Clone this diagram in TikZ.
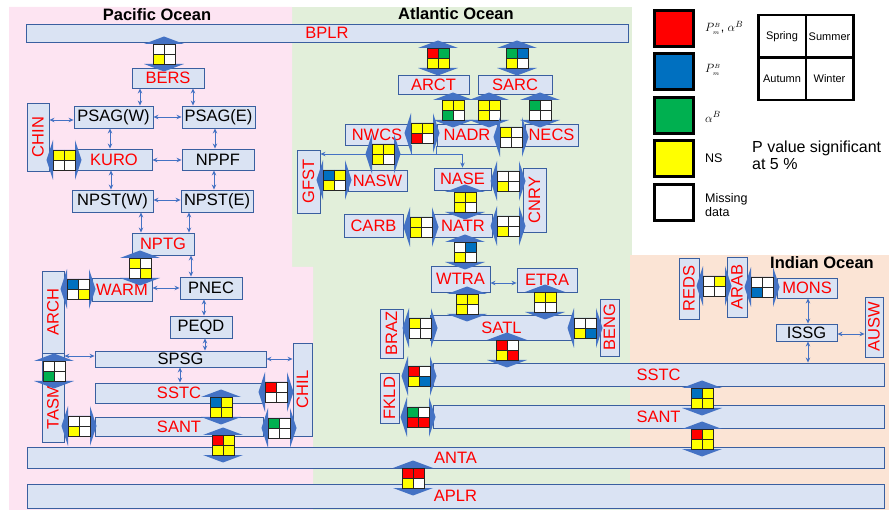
\documentclass[tikz,border=0pt]{standalone}
\usepackage{fontspec}
\usepackage{graphicx}
\setmainfont{Liberation Sans}
\usetikzlibrary{arrows.meta}
\definecolor{pacificbg}{HTML}{FDE4F2}
\definecolor{atlanticbg}{HTML}{E2EFDA}
\definecolor{indianbg}{HTML}{FBE4D5}
\definecolor{boxfill}{HTML}{DAE3F3}
\definecolor{boxedge}{HTML}{3A5FA0}
\definecolor{fluxblue}{HTML}{4472C4}
\definecolor{labelred}{HTML}{FF0000}
\definecolor{sigBoth}{HTML}{FF0000}
\definecolor{sigPm}{HTML}{0070C0}
\definecolor{sigAlpha}{HTML}{00B050}
\definecolor{sigNone}{HTML}{FFFF00}
\definecolor{sigMiss}{HTML}{FFFFFF}
\newcommand{\boxfont}{\fontsize{16.5}{18}\selectfont}
\newcommand{\pmB}{P^{\scriptscriptstyle B}_{\scriptscriptstyle m}}

\begin{document}
\begin{tikzpicture}[
    x=1pt, y=-1pt,
    >={Stealth[length=5pt,width=4.5pt]},
    basin/.style={draw=boxedge, fill=boxfill, line width=0.9pt, inner sep=0pt, font=\boxfont},
    hotbasin/.style={basin, text=labelred},
    link/.style={<->, draw=fluxblue, line width=0.8pt},
    wire/.style={draw=fluxblue, line width=0.8pt},
    swatchline/.style={draw=black!85, line width=0.8pt},
    keybox/.style={draw=black, line width=3pt, minimum width=39, minimum height=36, inner sep=0pt},
    keytext/.style={anchor=west, font=\fontsize{12.5}{14}\selectfont, align=left, inner sep=0pt},
    seasoncell/.style={draw=black, line width=2.5pt, minimum width=47.5, minimum height=42.5, inner sep=0pt, font=\fontsize{11}{13}\selectfont},
    oceantitle/.style={font=\fontsize{16.5}{18}\selectfont\bfseries},
]

\newcommand{\swatch}[4]{%
    \fill[#1] (-11,-10) rectangle (0,0);
    \fill[#2] (0,-10) rectangle (11,0);
    \fill[#3] (-11,0) rectangle (0,10);
    \fill[#4] (0,0) rectangle (11,10);
    \draw[swatchline] (-11,-10) rectangle (11,10) (0,-10) -- (0,10) (-11,0) -- (11,0);
}

\useasboundingbox (0,0) rectangle (889,510);

% ================= OCEAN BACKGROUNDS =================
\fill[atlanticbg] (292,7) rectangle (632,510);
\fill[pacificbg] (9,7) -- (292,7) -- (292,267) -- (313,267) -- (313,510) -- (9,510) -- cycle;
\fill[indianbg] (630,255) rectangle (889,510);

\node[oceantitle] (pactitle) at (157,15) {Pacific Ocean};
\node[oceantitle] (atltitle) at (456,14) {Atlantic Ocean};
\node[oceantitle] (indtitle) at (822,263) {Indian Ocean};

% ================= SHARED BARS =================
\node[hotbasin, minimum width=602, minimum height=18] (bplr) at (327,33) {BPLR};
\node[hotbasin, minimum width=857, minimum height=21] (anta) at (455.5,457.5) {ANTA};
\node[hotbasin, minimum width=857, minimum height=24] (aplr) at (455.5,496) {APLR};

% ================= PACIFIC =================
\node[hotbasin, minimum width=72, minimum height=20] (bers) at (168,78) {BERS};
\node[basin, minimum width=79, minimum height=22] (psagw) at (113.5,117) {PSAG(W)};
\node[basin, minimum width=73, minimum height=22] (psage) at (218.5,117) {PSAG(E)};
\node[hotbasin, minimum width=22, minimum height=68] (chin) at (38,137) {\rotatebox{90}{CHIN}};
\node[hotbasin, minimum width=76, minimum height=21] (kuro) at (114,159.5) {KURO};
\node[basin, minimum width=72, minimum height=21] (nppf) at (218,159.5) {NPPF};
\node[basin, minimum width=81, minimum height=22] (npstw) at (112.5,201) {NPST(W)};
\node[basin, minimum width=72, minimum height=22] (npste) at (217,201) {NPST(E)};
\node[hotbasin, minimum width=62, minimum height=22] (nptg) at (163,244) {NPTG};
\node[hotbasin, minimum width=60, minimum height=23] (warm) at (122,289.5) {WARM};
\node[basin, minimum width=62, minimum height=22] (pnec) at (211,288) {PNEC};
\node[basin, minimum width=62, minimum height=22] (peqd) at (201,327) {PEQD};
\node[hotbasin, minimum width=22, minimum height=82] (arch) at (53,312) {\rotatebox{90}{ARCH}};
\node[hotbasin, minimum width=22, minimum height=89] (tasm) at (53,397.5) {\rotatebox{90}{TASM\hspace*{20pt}}};
\node[basin, minimum width=171, minimum height=16] (spsg) at (180.5,359) {SPSG};
\node[hotbasin, minimum width=168, minimum height=20] (sstcp) at (179,393) {SSTC};
\node[hotbasin, minimum width=168, minimum height=19] (santp) at (179,426.5) {SANT};
\node[hotbasin, minimum width=19, minimum height=93] (chil) at (302.5,389.5) {\rotatebox{90}{CHIL}};

\draw[link] (bers.south -| 140,0) -- (psagw.north -| 140,0);
\draw[link] (bers.south -| 193,0) -- (psage.north -| 193,0);
\draw[link] (chin.east |- 0,120) -- (psagw.west |- 0,120);
\draw[link] (psagw.east |- 0,117) -- (psage.west |- 0,117);
\draw[link] (psagw.south -| 110,0) -- (kuro.north -| 110,0);
\draw[link] (psage.south -| 215,0) -- (nppf.north -| 215,0);
\draw[link] (kuro.east |- 0,160) -- (nppf.west |- 0,160);
\draw[link] (kuro.south -| 111,0) -- (npstw.north -| 111,0);
\draw[link] (nppf.south -| 214,0) -- (npste.north -| 214,0);
\draw[link] (npstw.east |- 0,200) -- (npste.west |- 0,200);
\draw[link] (npstw.south -| 141,0) -- (nptg.north -| 141,0);
\draw[link] (npste.south -| 189,0) -- (nptg.north -| 189,0);
\draw[link] (nptg.south -| 191,0) -- (pnec.north -| 191,0);
\draw[link] (warm.east |- 0,288) -- (pnec.west |- 0,288);
\draw[link] (pnec.south -| 204,0) -- (peqd.north -| 204,0);
\draw[link] (peqd.south -| 205,0) -- (spsg.north -| 205,0);
\draw[link] (arch.east |- 0,356) -- (spsg.west |- 0,356);
\draw[link] (spsg.east |- 0,359) -- (chil.west |- 0,359);
\draw[link] (spsg.south -| 180,0) -- (sstcp.north -| 180,0);

% ================= ATLANTIC =================
\node[hotbasin, minimum width=71, minimum height=19] (arct) at (433.5,84.5) {ARCT};
\node[hotbasin, minimum width=74, minimum height=19] (sarc) at (515,84.5) {SARC};
\node[hotbasin, minimum width=64, minimum height=21] (nwcs) at (377,134.5) {NWCS};
\node[hotbasin, minimum width=60, minimum height=22] (nadr) at (467,135) {NADR};
\node[hotbasin, minimum width=53, minimum height=22] (necs) at (551.5,135) {NECS};
\node[hotbasin, minimum width=23, minimum height=63] (gfst) at (308.5,181.5) {\rotatebox{90}{GFST}};
\node[hotbasin, minimum width=59, minimum height=21] (nasw) at (377.5,180.5) {NASW};
\node[hotbasin, minimum width=57, minimum height=22] (nase) at (462.5,179) {NASE};
\node[hotbasin, minimum width=23, minimum height=64] (cnry) at (534.5,200) {\rotatebox{90}{CNRY}};
\node[hotbasin, minimum width=59, minimum height=23] (carb) at (373.5,225.5) {CARB};
\node[hotbasin, minimum width=58, minimum height=23] (natr) at (463,225.5) {NATR};
\node[hotbasin, minimum width=59, minimum height=26] (wtra) at (460.5,279) {WTRA};
\node[hotbasin, minimum width=60, minimum height=24] (etra) at (547,280) {ETRA};
\node[hotbasin, minimum width=143, minimum height=25] (satl) at (501.5,327.5) {SATL};
\node[hotbasin, minimum width=23, minimum height=49] (braz) at (391.5,333.5) {\rotatebox{90}{BRAZ}};
\node[hotbasin, minimum width=19, minimum height=57] (beng) at (609.5,327.5) {\rotatebox{90}{BENG}};
\node[hotbasin, minimum width=19, minimum height=50] (fkld) at (389.5,398) {\rotatebox{90}{FKLD}};
\node[hotbasin, minimum width=451, minimum height=23] (sstca) at (658.5,374.5) {SSTC};
\node[hotbasin, minimum width=451, minimum height=23] (santa) at (658.5,416.5) {SANT};

\coordinate (jw) at (411,154);
\coordinate (je) at (436,154);
\draw[wire] (nwcs.south -| jw) -- (jw);
\draw[wire] (nadr.south -| je) -- (je);
\draw[link] (gfst.east |- jw) -| (nase.north);
\draw[link] (wtra.east |- 0,283) -- (etra.west |- 0,283);

% ================= INDIAN =================
\node[hotbasin, minimum width=20, minimum height=61] (reds) at (689,288.5) {\rotatebox{90}{REDS}};
\node[hotbasin, minimum width=20, minimum height=60] (arab) at (737,287) {\rotatebox{90}{ARAB}};
\node[hotbasin, minimum width=60, minimum height=20] (mons) at (807,288) {MONS};
\node[basin, minimum width=61, minimum height=17] (issg) at (806.5,332.5) {ISSG};
\node[hotbasin, minimum width=18, minimum height=60] (ausw) at (874,327) {\rotatebox{90}{AUSW}};

\draw[link] (mons.south -| 808,0) -- (issg.north -| 808,0);
\draw[link] (issg.east |- 0,334) -- (ausw.west |- 0,334);
\draw[link] (issg.south -| 808,0) -- (sstca.north -| 808,0);

% ================= EXCHANGE ARROWS (spring/summer/autumn/winter) =================
\foreach \fx/\fy/\sa/\sb/\sc/\sd in {
    164/54/sigMiss/sigMiss/sigNone/sigMiss, 438/58/sigBoth/sigAlpha/sigNone/sigNone,
    517/58/sigAlpha/sigPm/sigNone/sigMiss, 453/110/sigNone/sigNone/sigAlpha/sigMiss,
    489/110/sigNone/sigNone/sigNone/sigMiss, 540/110/sigAlpha/sigMiss/sigMiss/sigMiss,
    465/202/sigNone/sigNone/sigNone/sigMiss, 465/252/sigMiss/sigPm/sigNone/sigMiss,
    467/304/sigNone/sigNone/sigNone/sigMiss, 545/302/sigNone/sigNone/sigMiss/sigMiss,
    507/350/sigBoth/sigMiss/sigNone/sigBoth, 702/398/sigPm/sigNone/sigNone/sigNone,
    702/439/sigBoth/sigNone/sigNone/sigNone, 413/478/sigBoth/sigBoth/sigNone/sigMiss,
    54/371/sigMiss/sigMiss/sigAlpha/sigMiss, 221/407/sigPm/sigNone/sigNone/sigNone,
    223/445/sigBoth/sigNone/sigNone/sigNone, 140/268/sigNone/sigMiss/sigMiss/sigNone} {
    \begin{scope}[shift={(\fx,\fy)}]
        \fill[fluxblue] (-11,-10) -- (-20,-10) -- (0,-17.5) -- (20,-10) -- (11,-10) -- (11,10) -- (20,10) -- (0,17.5) -- (-20,10) -- (-11,10) -- cycle;
        \swatch{\sa}{\sb}{\sc}{\sd}
    \end{scope}
}
\foreach \fx/\fy/\sa/\sb/\sc/\sd in {
    64/160/sigNone/sigNone/sigMiss/sigMiss, 422/133/sigNone/sigNone/sigBoth/sigMiss,
    511/137/sigNone/sigMiss/sigMiss/sigMiss, 383/154/sigNone/sigNone/sigNone/sigMiss,
    334/180/sigPm/sigNone/sigNone/sigMiss, 508/181/sigMiss/sigMiss/sigNone/sigMiss,
    421/227/sigNone/sigMiss/sigNone/sigMiss, 508/226/sigMiss/sigMiss/sigNone/sigMiss,
    420/328/sigNone/sigMiss/sigMiss/sigMiss, 585/328/sigMiss/sigMiss/sigNone/sigPm,
    419/376/sigBoth/sigMiss/sigNone/sigPm, 418/417/sigAlpha/sigMiss/sigBoth/sigBoth,
    79/426/sigMiss/sigMiss/sigNone/sigMiss, 276/392/sigBoth/sigMiss/sigMiss/sigMiss,
    279/428/sigAlpha/sigMiss/sigMiss/sigMiss, 78/289/sigPm/sigMiss/sigMiss/sigNone,
    714/286/sigMiss/sigNone/sigMiss/sigMiss, 762/287/sigMiss/sigMiss/sigPm/sigMiss} {
    \begin{scope}[shift={(\fx,\fy)}]
        \fill[fluxblue] (-11,-10) -- (-11,-20) -- (-17.5,0) -- (-11,20) -- (-11,10) -- (11,10) -- (11,20) -- (17.5,0) -- (11,-20) -- (11,-10) -- cycle;
        \swatch{\sa}{\sb}{\sc}{\sd}
    \end{scope}
}

% ================= LEGEND =================
\foreach \i/\col in {0/sigBoth, 1/sigPm, 2/sigAlpha, 3/sigNone, 4/sigMiss} {
    \node[keybox, fill=\col] (key\i) at (674,28.5+\i*43.5) {};
}
\node[keytext] (keytext0) at (705,28) {$\pmB$, $\alpha^{B}$};
\node[keytext] (keytext1) at (705,70) {$\pmB$};
\node[keytext] (keytext2) at (705,117) {$\alpha^{B}$};
\node[keytext] (keytext3) at (705,158) {NS};
\node[keytext] (keytext4) at (705,205) {Missing\\data};

\node[seasoncell] (spring) at (782,36.5) {Spring};
\node[seasoncell] (summer) at (829.5,36.5) {Summer};
\node[seasoncell] (autumn) at (782,79) {Autumn};
\node[seasoncell] (winter) at (829.5,79) {Winter};

\node[anchor=west, align=left, inner sep=0pt, font=\fontsize{16}{17}\selectfont] (pnote) at (752,155) {P value significant\\at 5 \%};

\end{tikzpicture}
\end{document}
